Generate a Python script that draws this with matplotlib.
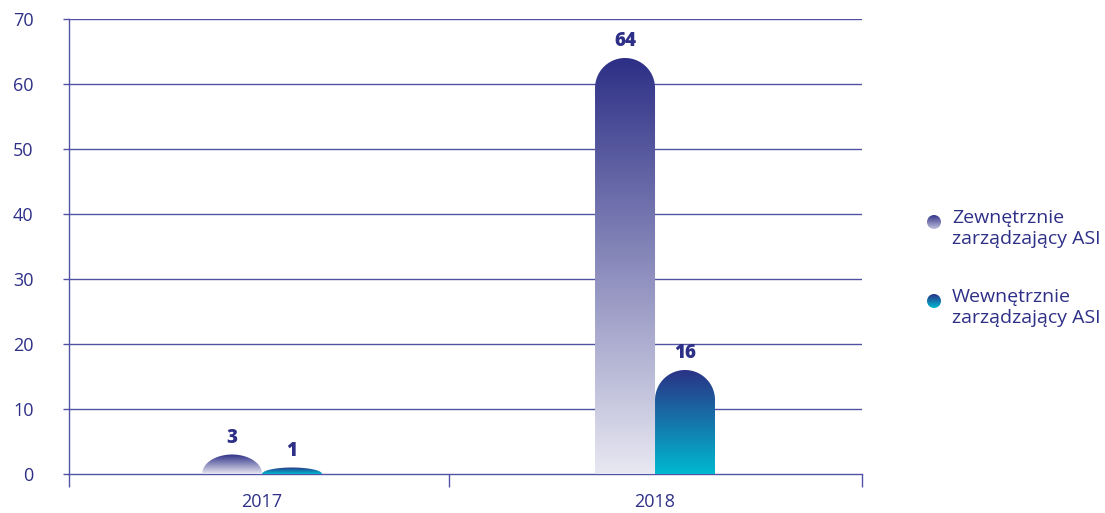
import numpy as np
import matplotlib.pyplot as plt
from matplotlib.path import Path
from matplotlib.patches import PathPatch, Circle
from matplotlib.colors import LinearSegmentedColormap

years = ["2017", "2018"]
series_names = ["Zewnętrznie\nzarządzający ASI", "Wewnętrznie\nzarządzający ASI"]
external = [3, 64]
internal = [1, 16]

navy = "#2e3087"
grid_col = "#5152a6"
grad_ext = LinearSegmentedColormap.from_list("ext", ["#e8e8f2", "#2d2f86"])
grad_int = LinearSegmentedColormap.from_list("int", ["#00b8d0", "#2a3386"])
dot_ext = LinearSegmentedColormap.from_list("dext", ["#c0c0dc", "#34368a"])

plt.rcParams["font.family"] = ["Open Sans", "DejaVu Sans"]

W, H = 1105, 513
fig = plt.figure(figsize=(W / 100, H / 100), dpi=100)
ax_l, ax_r, ax_t, ax_b = 69, 862, 19, 474
ax = fig.add_axes([ax_l / W, (H - ax_b) / H, (ax_r - ax_l) / W, (ax_b - ax_t) / H])
ax.set_xlim(0, 2)
ax.set_ylim(0, 70)

px_per_x = (ax_r - ax_l) / 2
px_per_y = (ax_b - ax_t) / 70

centers = [0.487, 1.478]
bar_w = 60 / px_per_x


def rounded_bar(x0, x1, h, cmap):
    c = (x0 + x1) / 2
    hw = (x1 - x0) / 2
    ry = min(30 / px_per_y, h)
    base = h - ry
    th = np.linspace(0, np.pi, 60)
    xs = np.concatenate([[x0, x1, x1], c + hw * np.cos(th), [x0]])
    ys = np.concatenate([[0, 0, base], base + ry * np.sin(th), [0]])
    path = Path(np.column_stack([xs, ys]))
    patch = PathPatch(path, facecolor="none", edgecolor="none")
    ax.add_patch(patch)
    grad = np.linspace(0, 1, 256).reshape(-1, 1)
    im = ax.imshow(grad, cmap=cmap, origin="lower", aspect="auto",
                   extent=[x0, x1, 0, h], zorder=3, interpolation="bilinear")
    im.set_clip_path(patch)


for i, c in enumerate(centers):
    rounded_bar(c - bar_w, c, external[i], grad_ext)
    rounded_bar(c, c + bar_w, internal[i], grad_int)
    for xc, v in [(c - bar_w / 2, external[i]), (c + bar_w / 2, internal[i])]:
        ax.annotate(str(v), (xc, v), xytext=(0, 5), textcoords="offset points",
                    ha="center", va="bottom", fontsize=13.5, fontweight="extra bold",
                    color=navy, zorder=5)

ax.set_xlim(0, 2)
ax.set_ylim(0, 70)
ax.set_yticks(range(0, 71, 10))
for y in range(10, 71, 10):
    ax.axhline(y, color=grid_col, lw=1, zorder=1)

ax.set_xticks([0, 0.958, 2])
ax.set_xticklabels([])
ax.set_xticks(centers, minor=True)
ax.set_xticklabels(years, minor=True)
ax.tick_params(axis="x", which="major", length=9.5, width=1, color=grid_col)
ax.tick_params(axis="x", which="minor", length=0, pad=14, labelsize=13, labelcolor=navy)
ax.tick_params(axis="y", length=4.5, width=1, color=grid_col, pad=21,
               labelsize=13, labelcolor=navy)
for lab in ax.get_yticklabels():
    lab.set_horizontalalignment("right")

for s in ["top", "right"]:
    ax.spines[s].set_visible(False)
for s in ["left", "bottom"]:
    ax.spines[s].set_color(grid_col)
    ax.spines[s].set_linewidth(1)

# legend with gradient dots
for name, cmap, yc in [(series_names[0], dot_ext, 222), (series_names[1], grad_int, 301)]:
    r = 7
    lax = fig.add_axes([(934 - r) / W, (H - yc - r) / H, 2 * r / W, 2 * r / H])
    lax.set_xlim(-1, 1)
    lax.set_ylim(-1, 1)
    lax.axis("off")
    circ = Circle((0, 0), 1, facecolor="none", edgecolor="none")
    lax.add_patch(circ)
    im = lax.imshow(np.linspace(0, 1, 64).reshape(-1, 1), cmap=cmap, origin="lower",
                    extent=[-1, 1, -1, 1], aspect="auto")
    im.set_clip_path(circ)
    fig.text(952 / W, (H - yc + 13) / H, name, fontsize=14, color=navy,
             ha="left", va="top", linespacing=1.2)

fig.savefig("out.png", dpi=100)
